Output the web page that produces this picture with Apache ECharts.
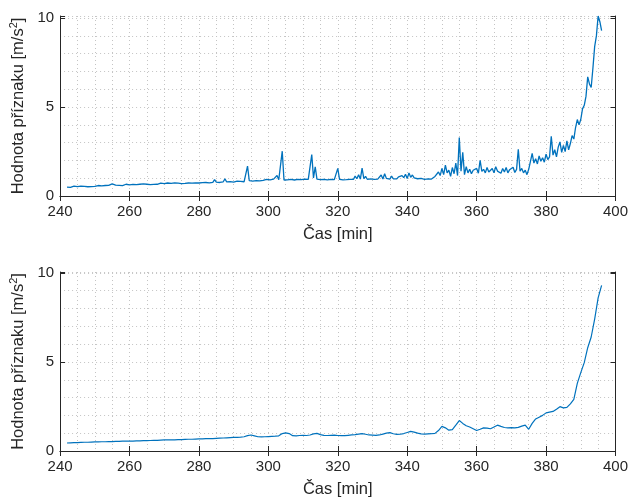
<!DOCTYPE html>
<html>
<head>
<meta charset="utf-8">
<script src="https://cdn.jsdelivr.net/npm/echarts@6/dist/echarts.min.js"></script>
<style>
html,body{margin:0;padding:0;background:#fff;}
#chart{width:631px;height:499px;}
</style>
</head>
<body>
<div id="chart"></div>
<script>
// sampling of the time axis [min]
const topStart = 242, topStep = 0.5;
const bottomStart = 242, bottomStep = 1;

// raw feature values (top panel), one per 0.5 min from 242
const topValues = [
  0.50,0.53,0.49,0.52,0.55,0.50,0.53,0.51,0.56,0.52,
  0.54,0.57,0.52,0.55,0.53,0.58,0.54,0.56,0.59,0.55,
  0.57,0.54,0.59,0.56,0.60,0.57,0.68,0.58,0.61,0.57,
  0.60,0.63,0.58,0.62,0.66,0.60,0.63,0.61,0.65,0.62,
  0.64,0.61,0.66,0.63,0.68,0.62,0.66,0.69,0.64,0.67,
  0.65,0.70,0.66,0.68,0.72,0.66,0.70,0.67,0.73,0.69,
  0.71,0.68,0.74,0.70,0.72,0.76,0.70,0.74,0.71,0.77,
  0.73,0.75,0.72,0.78,0.74,0.80,0.73,0.77,0.75,0.81,
  0.76,0.79,0.74,0.82,0.77,0.92,0.78,0.81,0.76,0.84,
  0.80,0.96,0.79,0.85,0.81,0.88,0.78,0.86,0.83,0.90,
  0.82,0.87,0.80,0.91,1.68,0.86,0.93,0.84,0.90,0.87,
  0.92,0.85,0.96,0.88,0.84,0.94,0.87,0.91,0.86,0.95,
  0.89,1.15,0.92,0.88,2.52,0.90,0.97,0.91,0.99,0.93,
  0.96,0.90,1.00,0.94,0.98,0.92,1.03,0.95,0.99,0.93,
  0.97,2.33,1.02,1.64,0.95,0.99,0.92,1.01,0.94,0.97,
  0.91,0.98,0.93,0.96,0.92,0.99,1.55,0.94,0.97,0.91,
  0.96,0.92,1.00,0.94,1.05,0.93,1.12,0.97,1.20,0.95,
  1.57,0.98,1.10,0.94,1.02,0.96,0.99,0.93,1.01,0.95,
  0.98,1.18,0.96,1.25,0.99,1.05,0.95,1.12,0.97,1.02,
  0.96,1.08,1.00,1.15,1.03,1.22,0.98,1.30,1.05,1.18,
  1.02,1.10,0.97,1.06,0.99,1.04,0.94,1.02,0.96,1.00,
  0.95,1.03,1.10,1.00,1.35,1.15,1.55,1.20,1.74,1.30,
  1.45,1.10,1.60,1.25,1.85,1.15,3.29,1.40,2.45,1.20,
  1.65,1.30,1.50,1.25,1.45,1.35,1.55,1.28,2.00,1.38,
  1.50,1.30,1.60,1.35,1.45,1.55,1.30,1.65,1.40,1.50,
  1.28,1.55,1.35,1.60,1.30,1.48,1.38,1.62,1.32,1.50,
  2.63,1.40,1.55,1.30,1.45,1.20,1.50,1.95,2.40,1.85,
  2.10,1.80,2.25,1.95,2.15,1.90,2.35,2.05,2.20,3.36,
  2.30,2.60,2.20,2.75,3.04,2.45,2.85,2.50,3.10,2.60,
  2.95,3.40,3.20,3.85,4.30,4.00,4.30,4.90,5.10,5.60,
  6.70,6.30,6.10,7.20,8.40,9.00,10.12,9.80,9.30
];

// smoothed feature values (bottom panel), one per 1 min from 242
const bottomValues = [
  0.45,0.46,0.47,0.47,0.48,0.49,0.49,0.50,0.51,0.51,
  0.52,0.52,0.53,0.53,0.54,0.54,0.55,0.55,0.56,0.56,
  0.57,0.57,0.58,0.58,0.59,0.60,0.60,0.61,0.62,0.62,
  0.63,0.63,0.64,0.64,0.65,0.66,0.66,0.67,0.68,0.68,
  0.69,0.70,0.70,0.71,0.72,0.73,0.74,0.75,0.76,0.77,
  0.78,0.80,0.86,0.90,0.85,0.80,0.79,0.80,0.81,0.82,
  0.83,0.85,0.98,1.02,0.98,0.86,0.85,0.87,0.88,0.87,
  0.90,0.96,0.99,0.92,0.88,0.87,0.88,0.89,0.87,0.86,
  0.86,0.88,0.90,0.92,0.95,0.98,0.94,0.90,0.89,0.88,
  0.90,0.95,1.00,1.03,0.97,0.93,0.94,0.98,1.04,1.10,
  1.06,1.00,0.96,0.95,0.96,0.97,0.99,1.15,1.38,1.30,
  1.17,1.20,1.45,1.71,1.55,1.42,1.35,1.25,1.15,1.22,
  1.30,1.28,1.25,1.35,1.45,1.38,1.32,1.30,1.31,1.30,
  1.33,1.40,1.45,1.22,1.55,1.80,1.90,2.00,2.14,2.18,
  2.22,2.35,2.49,2.42,2.45,2.65,2.90,3.80,4.40,4.96,
  5.80,6.40,7.40,8.60,9.30
];

const xTicks = [240, 260, 280, 300, 320, 340, 360, 380, 400];
const yTicks = [0, 5, 10];
const xLabel = 'Čas [min]';
const yLabel = 'Hodnota příznaku [m/s{sup|2}]';

const topData = topValues.map((v, i) => [topStart + i * topStep, v]);
const bottomData = bottomValues.map((v, i) => [bottomStart + i * bottomStep, v]);

const FONT = 'Liberation Sans, Arial, Helvetica, sans-serif';
const AX = '#262626';
const GRIDC = '#c4c4c4';

function xMain(gridIndex) {
  return {
    type: 'value', gridIndex, position: 'bottom',
    min: xTicks[0], max: xTicks[xTicks.length - 1], interval: xTicks[1] - xTicks[0],
    name: xLabel, nameLocation: 'middle', nameGap: 30,
    nameTextStyle: { color: AX, fontSize: 16.5, fontFamily: FONT },
    axisLine: { show: true, lineStyle: { color: AX, width: 1 } },
    axisTick: { show: true, inside: true, length: 5, lineStyle: { color: AX } },
    axisLabel: { color: AX, fontSize: 15, fontFamily: FONT, margin: 8 },
    splitLine: { show: true, lineStyle: { color: GRIDC, type: [1, 3], width: 1 } },
    minorTick: { show: false, splitNumber: 4 },
    minorSplitLine: { show: true, lineStyle: { color: GRIDC, type: [1, 3], width: 1 } }
  };
}
function xMirror(gridIndex) {
  return {
    type: 'value', gridIndex, position: 'top',
    min: xTicks[0], max: xTicks[xTicks.length - 1], interval: xTicks[1] - xTicks[0],
    axisLine: { show: true, lineStyle: { color: AX, width: 1 } },
    axisTick: { show: true, inside: true, length: 5, lineStyle: { color: AX } },
    axisLabel: { show: false },
    splitLine: { show: false }
  };
}
function yMain(gridIndex, max) {
  return {
    type: 'value', gridIndex, position: 'left',
    min: yTicks[0], max: max, interval: yTicks[1] - yTicks[0],
    name: yLabel, nameLocation: 'middle', nameGap: 23, nameRotate: 90,
    nameTextStyle: {
      color: AX, fontSize: 16.5, fontFamily: FONT,
      rich: { sup: { fontSize: 11, fontFamily: FONT, color: AX, verticalAlign: 'top', padding: [0, 0, 9, 0] } }
    },
    axisLine: { show: true, lineStyle: { color: AX, width: 1 } },
    axisTick: { show: true, inside: true, length: 5, lineStyle: { color: AX } },
    axisLabel: {
      color: AX, fontSize: 15, fontFamily: FONT, margin: 6,
      formatter: v => (yTicks.indexOf(v) >= 0 ? String(v) : '')
    },
    splitLine: { show: true, lineStyle: { color: GRIDC, type: [1, 3], width: 1 } },
    minorTick: { show: false, splitNumber: 5 },
    minorSplitLine: { show: true, lineStyle: { color: GRIDC, type: [1, 3], width: 1 } }
  };
}
function yMirror(gridIndex, max) {
  return {
    type: 'value', gridIndex, position: 'right',
    min: yTicks[0], max: max, interval: yTicks[1] - yTicks[0],
    axisLine: { show: true, lineStyle: { color: AX, width: 1 } },
    axisTick: { show: true, inside: true, length: 5, lineStyle: { color: AX } },
    axisLabel: { show: false },
    splitLine: { show: false }
  };
}

const chart = echarts.init(document.getElementById('chart'), null, { renderer: 'canvas' });
chart.setOption({
  animation: false,
  backgroundColor: '#fff',
  grid: [
    { left: 57, top: 16, width: 562, height: 180, containLabel: false },
    { left: 57, top: 272, width: 562, height: 180.5, containLabel: false }
  ],
  xAxis: [xMain(0), xMirror(0), xMain(1), xMirror(1)],
  yAxis: [yMain(0, 10.12), yMirror(0, 10.12), yMain(1, 10.05), yMirror(1, 10.05)],
  series: [
    {
      type: 'line', xAxisIndex: 0, yAxisIndex: 0, data: topData,
      showSymbol: false, symbol: 'none',
      lineStyle: { color: '#0072BD', width: 1.3 }, z: 3
    },
    {
      type: 'line', xAxisIndex: 2, yAxisIndex: 2, data: bottomData,
      showSymbol: false, symbol: 'none', smooth: false,
      lineStyle: { color: '#0072BD', width: 1.2 }, z: 3
    }
  ]
});
</script>
</body>
</html>
